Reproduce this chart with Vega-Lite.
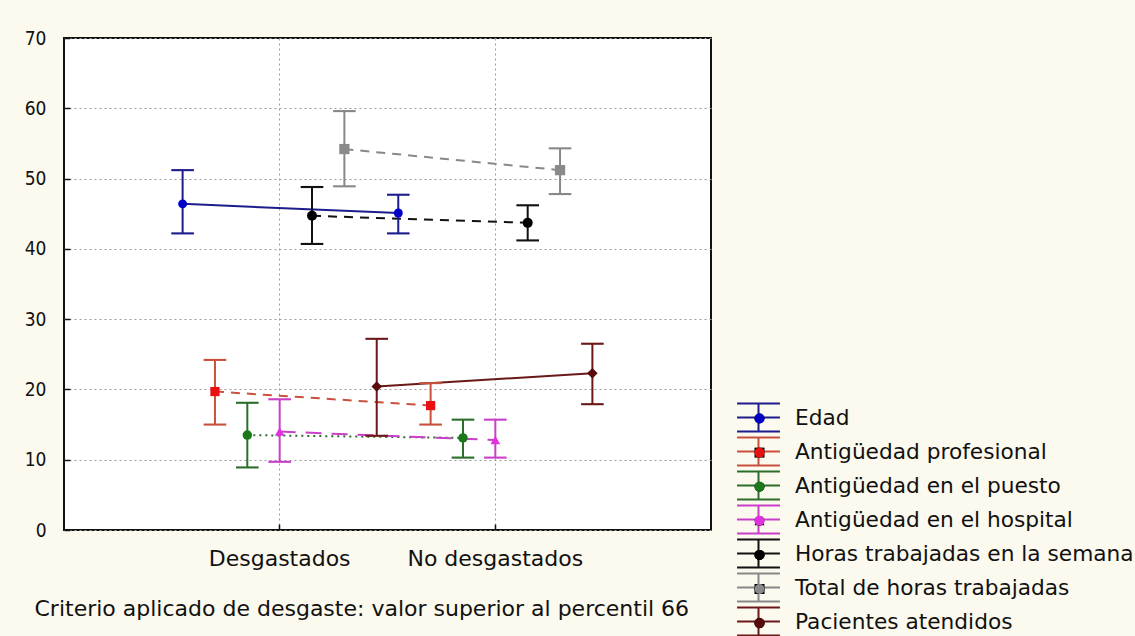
{
  "$schema": "https://vega.github.io/schema/vega-lite/v6.json",
  "width": 647,
  "height": 492,
  "autosize": {"type": "none"},
  "padding": {"left": 64, "top": 38, "right": 424, "bottom": 106},
  "background": "#fcf9ee",
  "config": {
    "view": {"fill": "white", "stroke": "#111111", "strokeWidth": 2},
    "font": "DejaVu Sans",
    "axis": {
      "domain": false,
      "gridColor": "#9a9a9a",
      "gridDash": [2, 3],
      "gridWidth": 1,
      "tickColor": "#111111",
      "tickSize": -6,
      "tickWidth": 1.5,
      "labelColor": "#111111",
      "titleColor": "#111111",
      "titleFontWeight": "normal"
    }
  },
  "data": {
    "values": [
      {"grupo": "Desgastados", "variable": "Edad", "media": 46.4, "inf": 42.2, "sup": 51.2},
      {"grupo": "Desgastados", "variable": "Antigüedad profesional", "media": 19.7, "inf": 15.0, "sup": 24.2},
      {"grupo": "Desgastados", "variable": "Antigüedad en el puesto", "media": 13.5, "inf": 8.9, "sup": 18.1},
      {"grupo": "Desgastados", "variable": "Antigüedad en el hospital", "media": 14.0, "inf": 9.7, "sup": 18.6},
      {"grupo": "Desgastados", "variable": "Horas trabajadas en la semana", "media": 44.7, "inf": 40.7, "sup": 48.8},
      {"grupo": "Desgastados", "variable": "Total de horas trabajadas", "media": 54.2, "inf": 48.9, "sup": 59.6},
      {"grupo": "Desgastados", "variable": "Pacientes atendidos", "media": 20.4, "inf": 13.4, "sup": 27.2},
      {"grupo": "No desgastados", "variable": "Edad", "media": 45.1, "inf": 42.2, "sup": 47.7},
      {"grupo": "No desgastados", "variable": "Antigüedad profesional", "media": 17.7, "inf": 15.0, "sup": 20.9},
      {"grupo": "No desgastados", "variable": "Antigüedad en el puesto", "media": 13.1, "inf": 10.3, "sup": 15.7},
      {"grupo": "No desgastados", "variable": "Antigüedad en el hospital", "media": 12.8, "inf": 10.3, "sup": 15.7},
      {"grupo": "No desgastados", "variable": "Horas trabajadas en la semana", "media": 43.7, "inf": 41.2, "sup": 46.2},
      {"grupo": "No desgastados", "variable": "Total de horas trabajadas", "media": 51.2, "inf": 47.8, "sup": 54.3},
      {"grupo": "No desgastados", "variable": "Pacientes atendidos", "media": 22.3, "inf": 17.9, "sup": 26.5}
    ]
  },
  "encoding": {
    "x": {
      "field": "grupo",
      "type": "nominal",
      "scale": {"type": "band", "domain": ["Desgastados", "No desgastados"], "paddingInner": 0, "paddingOuter": 0.5},
      "title": "Criterio aplicado de desgaste: valor superior al percentil  66",
      "axis": {
        "grid": true,
        "bandPosition": 0.5,
        "labelAngle": 0,
        "labelFont": "DejaVu Sans",
        "labelFontSize": 22,
        "labelBaseline": "alphabetic",
        "labelPadding": 41,
        "titleFont": "DejaVu Sans",
        "titleFontSize": 22,
        "titleAnchor": "start",
        "titleAlign": "left",
        "titleBaseline": "alphabetic",
        "titleX": -30,
        "titleY": 85
      }
    },
    "xOffset": {
      "field": "variable",
      "type": "nominal",
      "scale": {
        "type": "point",
        "padding": 0.333,
        "domain": ["Edad", "Antigüedad profesional", "Antigüedad en el puesto", "Antigüedad en el hospital", "Horas trabajadas en la semana", "Total de horas trabajadas", "Pacientes atendidos"]
      }
    },
    "stroke": {
      "field": "variable",
      "type": "nominal",
      "scale": {
        "domain": ["Edad", "Antigüedad profesional", "Antigüedad en el puesto", "Antigüedad en el hospital", "Horas trabajadas en la semana", "Total de horas trabajadas", "Pacientes atendidos"],
        "range": ["#1c1c8c", "#c8503c", "#2a6e2a", "#c840c8", "#111111", "#888888", "#6a1818"]
      },
      "legend": {
        "orient": "none",
        "legendX": 678.5,
        "legendY": 363.5,
        "title": null,
        "symbolType": "M-1.43,-0.93H1.43M-1.43,0H1.43M-1.43,0.93H1.43M0,-0.93V0.93",
        "symbolSize": 900,
        "symbolStrokeWidth": 2,
        "symbolFillColor": "transparent",
        "labelFont": "DejaVu Sans",
        "labelFontSize": 21.7,
        "labelColor": "#111111",
        "labelOffset": 20.5,
        "labelLimit": 400,
        "rowPadding": -4.2
      }
    }
  },
  "layer": [
    {
      "transform": [{"filter": {"field": "variable", "oneOf": ["Edad", "Pacientes atendidos"]}}],
      "mark": {"type": "line", "strokeWidth": 2},
      "encoding": {
        "y": {
          "field": "media",
          "type": "quantitative",
          "title": null,
          "scale": {"domain": [0, 70], "nice": false},
          "axis": {
            "values": [0, 10, 20, 30, 40, 50, 60, 70],
            "grid": true,
            "labelFont": "DejaVu Sans Condensed, DejaVu Sans",
            "labelFontSize": 19,
            "labelPadding": 24
          }
        }
      }
    },
    {
      "transform": [{"filter": {"field": "variable", "oneOf": ["Antigüedad profesional", "Horas trabajadas en la semana", "Total de horas trabajadas"]}}],
      "mark": {"type": "line", "strokeWidth": 2, "strokeDash": [9, 7]},
      "encoding": {
        "y": {"field": "media", "type": "quantitative", "title": null}
      }
    },
    {
      "transform": [{"filter": {"field": "variable", "equal": "Antigüedad en el puesto"}}],
      "mark": {"type": "line", "strokeWidth": 2, "strokeDash": [2, 4]},
      "encoding": {
        "y": {"field": "media", "type": "quantitative", "title": null}
      }
    },
    {
      "transform": [{"filter": {"field": "variable", "equal": "Antigüedad en el hospital"}}],
      "mark": {"type": "line", "strokeWidth": 2, "strokeDash": [16, 10]},
      "encoding": {
        "y": {"field": "media", "type": "quantitative", "title": null}
      }
    },
    {
      "mark": {"type": "rule", "strokeWidth": 2},
      "encoding": {
        "y": {"field": "inf", "type": "quantitative", "title": null},
        "y2": {"field": "sup"}
      }
    },
    {
      "mark": {"type": "tick", "orient": "horizontal", "size": 21, "thickness": 0.5, "strokeWidth": 1.6, "filled": false, "opacity": 1},
      "encoding": {
        "y": {"field": "inf", "type": "quantitative", "title": null}
      }
    },
    {
      "mark": {"type": "tick", "orient": "horizontal", "size": 21, "thickness": 0.5, "strokeWidth": 1.6, "filled": false, "opacity": 1},
      "encoding": {
        "y": {"field": "sup", "type": "quantitative", "title": null}
      }
    },
    {
      "mark": {"type": "point", "filled": true, "opacity": 1, "strokeWidth": 0},
      "encoding": {
        "y": {"field": "media", "type": "quantitative", "title": null},
        "fill": {
          "field": "variable",
          "type": "nominal",
          "sort": ["Edad", "Antigüedad profesional", "Antigüedad en el puesto", "Antigüedad en el hospital", "Horas trabajadas en la semana", "Total de horas trabajadas", "Pacientes atendidos"],
          "scale": {
            "range": ["#0000c8", "#e81010", "#1a7a1a", "#e030e0", "#000000", "#8a8a8a", "#5a0a0a"]
          },
          "legend": {"orient": "none", "legendX": 685, "legendY": 370, "title": null, "labelExpr": "''", "labelFontSize": 21, "labelOffset": 0, "rowPadding": 12.1}
        },
        "shape": {
          "field": "variable",
          "type": "nominal",
          "sort": ["Edad", "Antigüedad profesional", "Antigüedad en el puesto", "Antigüedad en el hospital", "Horas trabajadas en la semana", "Total de horas trabajadas", "Pacientes atendidos"],
          "scale": {
            "range": ["circle", "square", "circle", "triangle-up", "circle", "square", "diamond"]
          },
          "legend": {"orient": "none", "legendX": 685, "legendY": 370, "title": null, "labelExpr": "''", "labelFontSize": 21, "labelOffset": 0, "rowPadding": 12.1}
        },
        "size": {
          "field": "variable",
          "type": "nominal",
          "sort": ["Edad", "Antigüedad profesional", "Antigüedad en el puesto", "Antigüedad en el hospital", "Horas trabajadas en la semana", "Total de horas trabajadas", "Pacientes atendidos"],
          "scale": {
            "range": [80, 110, 45, 70, 80, 100, 50]
          },
          "legend": {"orient": "none", "legendX": 685, "legendY": 370, "title": null, "labelExpr": "''", "labelFontSize": 21, "labelOffset": 0, "rowPadding": 12.1}
        }
      }
    }
  ]
}
